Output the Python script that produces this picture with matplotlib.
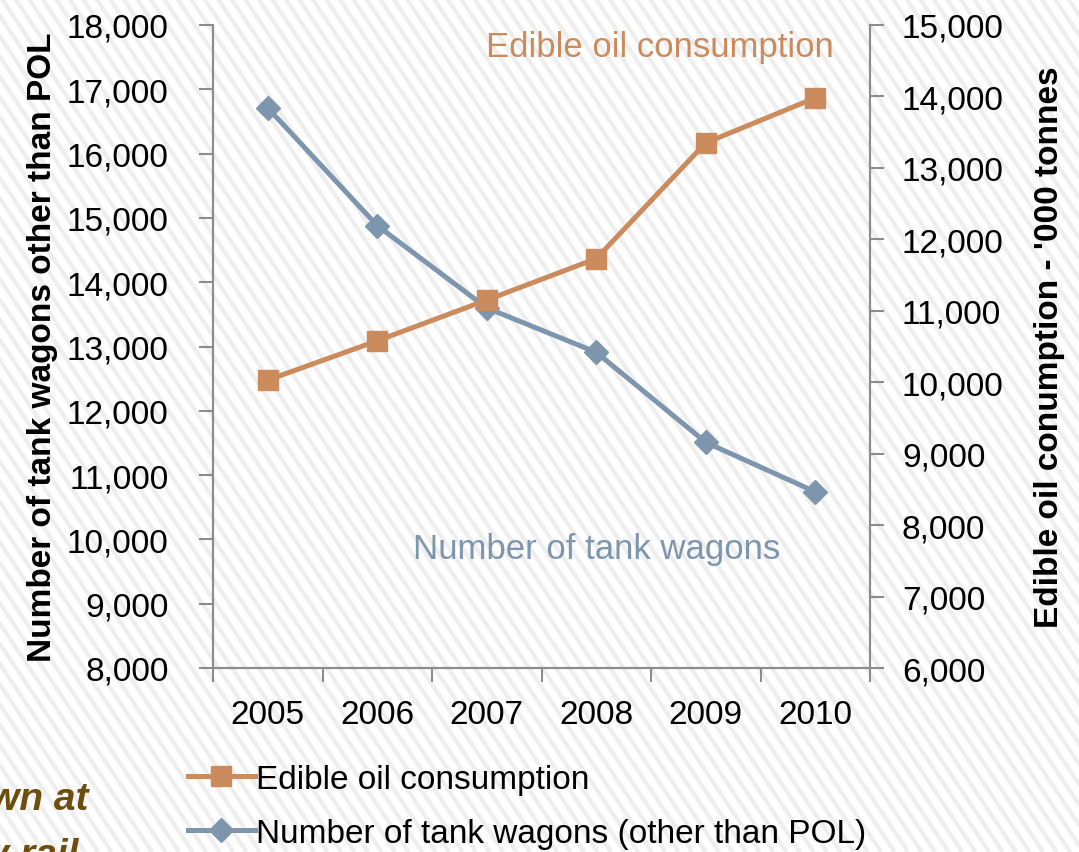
import numpy as np
import matplotlib.pyplot as plt
from matplotlib.ticker import FuncFormatter

years = ['2005', '2006', '2007', '2008', '2009', '2010']
wagons = [16710, 14880, 13600, 12910, 11510, 10740]
edible_oil = [10030, 10580, 11150, 11730, 13350, 13980]

orange = '#CC8B5C'
blue = '#7D96AE'
grey = '#8C8C8C'

plt.rcParams['font.family'] = ['Liberation Sans', 'DejaVu Sans']

fig = plt.figure(figsize=(10.79, 8.53), dpi=100)

# striped slide background
bg = fig.add_axes([0, 0, 1, 1], zorder=-5)
bg.set_xlim(0, 1079)
bg.set_ylim(853, 0)
bg.axis('off')
for x0 in np.arange(-700, 1100, 13.5):
    bg.plot([x0, x0 + 853 / 1.5], [0, 853], color='#eeeeee', lw=3.0,
            solid_capstyle='butt')

ax = fig.add_axes([213 / 1079, 1 - 669 / 853, (870 - 213) / 1079, (669 - 26) / 853])
ax.set_facecolor('none')
ax2 = ax.twinx()

x = np.arange(len(years))
l2, = ax.plot(x, wagons, color=blue, lw=3.6, marker='D', ms=12,
              label='Number of tank wagons (other than POL)', zorder=3)
l1, = ax2.plot(x, edible_oil, color=orange, lw=3.6, marker='s', ms=14,
               label='Edible oil consumption', zorder=3)

ax.set_xlim(-0.5, 5.5)
ax.set_ylim(8000, 18000)
ax2.set_ylim(6000, 15000)
ax.set_yticks(np.arange(8000, 18001, 1000))
ax2.set_yticks(np.arange(6000, 15001, 1000))
fmt = FuncFormatter(lambda v, p: f'{int(v):,}')
ax.yaxis.set_major_formatter(fmt)
ax2.yaxis.set_major_formatter(fmt)

ax.set_xticks(np.arange(-0.5, 6, 1))
ax.set_xticklabels([])
ax.set_xticks(x, minor=True)
ax.set_xticklabels(years, minor=True)
ax.tick_params(axis='x', which='minor', length=0, pad=22, labelsize=24)
ax.tick_params(axis='x', which='major', length=10, width=1.5, color=grey, direction='out')

ax.tick_params(axis='y', length=10, width=1.5, color=grey, labelsize=24, pad=22)
ax2.tick_params(axis='y', length=10, width=1.5, color=grey, labelsize=24, pad=13)
for a in (ax, ax2):
    for s in a.spines.values():
        s.set_color(grey)
        s.set_linewidth(1.5)
    a.spines['top'].set_visible(False)

ax.set_ylabel('Number of tank wagons other than POL', fontsize=24,
              fontweight='bold', labelpad=6)
ax2.set_ylabel("Edible oil conumption - '000 tonnes", fontsize=24,
               fontweight='bold', labelpad=22)

ax.text(3.58, 17660, 'Edible oil consumption', color=orange, fontsize=25,
        ha='center', va='center')
ax.text(3.0, 9860, 'Number of tank wagons', color=blue, fontsize=25,
        ha='center', va='center')

fig.legend(handles=[l1, l2], loc='upper left',
           bbox_to_anchor=(188 / 1079, 1 - 765 / 853), frameon=False,
           fontsize=24, handlelength=2.0, handletextpad=0.05,
           labelspacing=0.68, borderaxespad=0, borderpad=0)

fig.text(88 / 1079, 1 - 800 / 853, 'shown at', color='#6E4E0E', fontsize=28,
         fontweight='bold', fontstyle='italic', ha='right', va='center')
fig.text(78 / 1079, 1 - 856 / 853, 'by rail', color='#6E4E0E', fontsize=28,
         fontweight='bold', fontstyle='italic', ha='right', va='center')

fig.savefig('out.png', dpi=100)
